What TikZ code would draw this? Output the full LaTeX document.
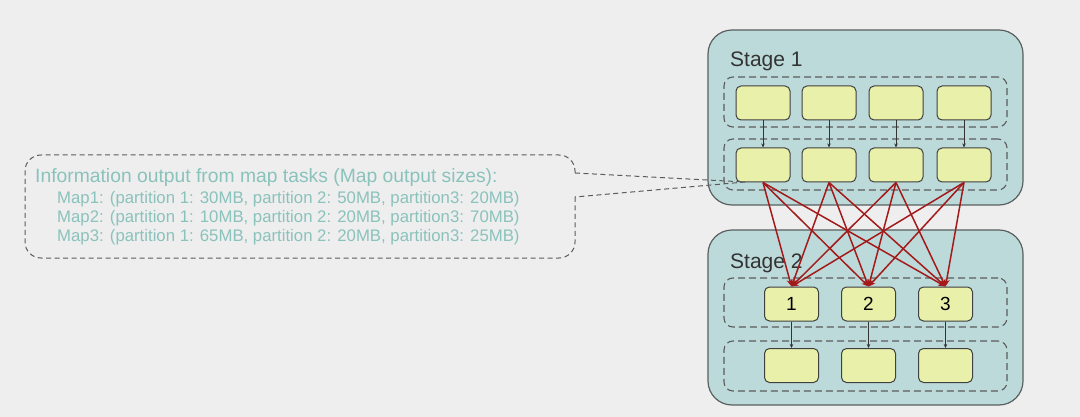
\documentclass[tikz,border=0pt]{standalone}
\usepackage{fontspec}
\setmainfont{Liberation Sans}
\usetikzlibrary{arrows.meta}
\definecolor{bgc}{HTML}{EEEEEE}
\definecolor{stagefill}{HTML}{BDDADA}
\definecolor{stageline}{HTML}{5A5F5F}
\definecolor{boxfill}{HTML}{E8F0AA}
\definecolor{boxline}{HTML}{404040}
\definecolor{dashc}{HTML}{5C5C5C}
\definecolor{infotext}{HTML}{8AC2BC}
\definecolor{redc}{HTML}{A31A1A}
\begin{document}
\begin{tikzpicture}[x=1pt,y=-1pt,
  stagebox/.style={draw=stageline, line width=1.2pt, fill=stagefill, rounded corners=24pt,
    minimum width=315pt, minimum height=175pt, inner sep=0pt},
  rowbox/.style={draw=dashc, dashed, dash pattern=on 7pt off 4pt, line width=1.1pt, rounded corners=9pt,
    minimum width=283pt, inner sep=0pt},
  taskbox/.style={draw=boxline, line width=1pt, fill=boxfill, rounded corners=5pt,
    minimum width=54pt, minimum height=34pt, inner sep=0pt, font=\fontsize{19pt}{22pt}\selectfont},
  stagelabel/.style={anchor=base west, inner sep=0pt, text=black!80, font=\fontsize{21pt}{25pt}\selectfont},
  infotitle/.style={anchor=base west, inner sep=0pt, text=infotext, font=\fontsize{19.3pt}{22pt}\selectfont},
  infoline/.style={anchor=base west, inner sep=0pt, text=infotext, font=\fontsize{16.75pt}{20pt}\selectfont},
  blackarr/.style={draw=black!80, line width=0.8pt, -{Stealth[length=4pt,width=3.5pt]}},
  redarr/.style={draw=redc, line width=1.5pt, -{Stealth[length=7pt,width=6pt]}},
  calloutline/.style={draw=dashc, dashed, dash pattern=on 5pt off 3.5pt, line width=1pt}
]
\useasboundingbox (0,0) rectangle (1080,417);
\fill[bgc] (0,0) rectangle (1080,417);

% stages
\node[stagebox] (s1) at (865.5,117.5) {};
\node[stagebox] (s2) at (865.5,317.5) {};
\node[stagelabel] (l1) at (730,67) {Stage 1};
\node[stagelabel] (l2) at (730,268) {Stage 2};

% dashed rows
\node[rowbox, minimum height=50pt] (r1) at (865.5,102) {};
\node[rowbox, minimum height=51pt] (r2) at (865.5,164.5) {};
\node[rowbox, minimum height=49pt] (r3) at (865.5,302.5) {};
\node[rowbox, minimum height=50pt] (r4) at (865.5,366) {};

% stage 1 tasks
\foreach \i/\x in {1/763,2/829,3/896,4/964}{
  \node[taskbox] (a\i) at (\x,103) {};
  \node[taskbox] (b\i) at (\x,165) {};
  \draw[blackarr] (a\i.south) -- (b\i.north);
}
% stage 2 tasks
\foreach \i/\x in {1/791.5,2/868.5,3/945.5}{
  \node[taskbox] (c\i) at (\x,304) {\i};
  \node[taskbox] (d\i) at (\x,365.5) {};
  \draw[blackarr] (c\i.south) -- (d\i.north);
}

% callout
\coordinate (tip) at (745,182);
\draw[calloutline, rounded corners=16pt] (575,173) -- (575,155) -- (25,155) -- (25,258) -- (575,258) -- (575,197);
\draw[calloutline] (575,173) -- (tip) -- (575,197);
\node[infotitle] (t0) at (35,183) {Information output from map tasks (Map output sizes):};
\node[infoline] (t1) at (57,204) {Map1: (partition 1: 30MB, partition 2: 50MB, partition3: 20MB)};
\node[infoline] (t2) at (57,222.7) {Map2: (partition 1: 10MB, partition 2: 20MB, partition3: 70MB)};
\node[infoline] (t3) at (57,241.5) {Map3: (partition 1: 65MB, partition 2: 20MB, partition3: 25MB)};

% shuffle arrows
\foreach \i in {1,...,4}{
  \foreach \j in {1,2,3}{
    \draw[redarr] (b\i.south) -- (c\j.north);
  }
}
\end{tikzpicture}
\end{document}
